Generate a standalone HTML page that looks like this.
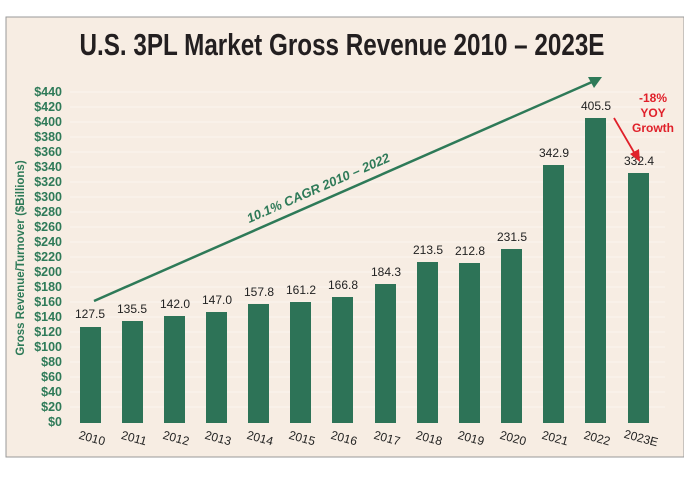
<!DOCTYPE html>
<html><head><style>
body{margin:0;background:#fff;width:684px;height:475px;overflow:hidden}
</style></head><body>
<svg width="684" height="475" xmlns="http://www.w3.org/2000/svg" font-family="Liberation Sans, sans-serif">
<rect x="6" y="17" width="678" height="440" fill="#f7ede3" stroke="#999" stroke-width="1"/>
<text x="342" y="55" text-anchor="middle" font-size="31" font-weight="bold" fill="#231f20" transform="translate(342,0) scale(0.78,1) translate(-342,0)" textLength="673" lengthAdjust="spacingAndGlyphs">U.S. 3PL Market Gross Revenue 2010 – 2023E</text>
<g stroke="#fbf5ef" stroke-width="1">
<line x1="70" x2="665" y1="92" y2="92"/><line x1="70" x2="665" y1="107" y2="107"/><line x1="70" x2="665" y1="122" y2="122"/><line x1="70" x2="665" y1="137" y2="137"/><line x1="70" x2="665" y1="152" y2="152"/><line x1="70" x2="665" y1="167" y2="167"/><line x1="70" x2="665" y1="182" y2="182"/><line x1="70" x2="665" y1="197" y2="197"/><line x1="70" x2="665" y1="212" y2="212"/><line x1="70" x2="665" y1="227" y2="227"/><line x1="70" x2="665" y1="242" y2="242"/><line x1="70" x2="665" y1="257" y2="257"/><line x1="70" x2="665" y1="272" y2="272"/><line x1="70" x2="665" y1="287" y2="287"/><line x1="70" x2="665" y1="302" y2="302"/><line x1="70" x2="665" y1="317" y2="317"/><line x1="70" x2="665" y1="332" y2="332"/><line x1="70" x2="665" y1="347" y2="347"/><line x1="70" x2="665" y1="362" y2="362"/><line x1="70" x2="665" y1="377" y2="377"/><line x1="70" x2="665" y1="392" y2="392"/><line x1="70" x2="665" y1="407" y2="407"/>
</g>
<g font-size="12.5" font-weight="bold" fill="#2e7a58" text-anchor="end">
<text x="62" y="96">$440</text><text x="62" y="111">$420</text><text x="62" y="126">$400</text><text x="62" y="141">$380</text><text x="62" y="156">$360</text><text x="62" y="171">$340</text><text x="62" y="186">$320</text><text x="62" y="201">$300</text><text x="62" y="216">$280</text><text x="62" y="231">$260</text><text x="62" y="246">$240</text><text x="62" y="261">$220</text><text x="62" y="276">$200</text><text x="62" y="291">$180</text><text x="62" y="306">$160</text><text x="62" y="321">$140</text><text x="62" y="336">$120</text><text x="62" y="351">$100</text><text x="62" y="366">$80</text><text x="62" y="381">$60</text><text x="62" y="396">$40</text><text x="62" y="411">$20</text><text x="62" y="426">$0</text>
</g>
<text transform="translate(24,258) rotate(-90)" text-anchor="middle" font-size="11.5" font-weight="bold" fill="#2e7a58">Gross Revenue/Turnover ($Billions)</text>
<g fill="#2d7357">
<rect x="80" y="327" width="21" height="96"/>
<rect x="122" y="321" width="21" height="102"/>
<rect x="164" y="316" width="21" height="107"/>
<rect x="206" y="312" width="21" height="111"/>
<rect x="248" y="304" width="21" height="119"/>
<rect x="290" y="302" width="21" height="121"/>
<rect x="332" y="297" width="21" height="126"/>
<rect x="375" y="284" width="21" height="139"/>
<rect x="417" y="262" width="21" height="161"/>
<rect x="459" y="263" width="21" height="160"/>
<rect x="501" y="249" width="21" height="174"/>
<rect x="543" y="165" width="21" height="258"/>
<rect x="585" y="118" width="21" height="305"/>
<rect x="628" y="173" width="21" height="250"/>
</g>
<g font-size="12" fill="#222" text-anchor="middle">
<text x="90" y="318">127.5</text><text x="132" y="313">135.5</text><text x="175" y="308">142.0</text><text x="217" y="304">147.0</text><text x="259" y="296">157.8</text><text x="301" y="294">161.2</text><text x="343" y="289">166.8</text><text x="386" y="276">184.3</text><text x="428" y="254">213.5</text><text x="470" y="255">212.8</text><text x="512" y="241">231.5</text><text x="554" y="157">342.9</text><text x="596" y="110">405.5</text><text x="639" y="165">332.4</text>
</g>
<g font-size="12" fill="#222" text-anchor="middle">
<text transform="translate(91,442) rotate(15)">2010</text><text transform="translate(133,442) rotate(15)">2011</text><text transform="translate(175,442) rotate(15)">2012</text><text transform="translate(217,442) rotate(15)">2013</text><text transform="translate(259,442) rotate(15)">2014</text><text transform="translate(301,442) rotate(15)">2015</text><text transform="translate(343,442) rotate(15)">2016</text><text transform="translate(386,442) rotate(15)">2017</text><text transform="translate(428,442) rotate(15)">2018</text><text transform="translate(470,442) rotate(15)">2019</text><text transform="translate(512,442) rotate(15)">2020</text><text transform="translate(554,442) rotate(15)">2021</text><text transform="translate(596,442) rotate(15)">2022</text><text transform="translate(640,442) rotate(15)">2023E</text>
</g>
<line x1="94" y1="301" x2="592" y2="82" stroke="#2e7a58" stroke-width="2.5"/>
<polygon points="602,77 588,77 594,88" fill="#2e7a58"/>
<text transform="translate(320,192) rotate(-23.7)" text-anchor="middle" font-size="13" font-weight="bold" font-style="italic" fill="#2e7a58">10.1% CAGR 2010 – 2022</text>
<line x1="614" y1="118" x2="635" y2="154" stroke="#e0202a" stroke-width="1.8"/>
<polygon points="640,162 630,154 639,149" fill="#e0202a"/>
<g font-size="12" font-weight="bold" fill="#e0202a" text-anchor="middle">
<text x="653" y="102">-18%</text><text x="653" y="117">YOY</text><text x="653" y="132">Growth</text>
</g>
</svg>
</body></html>
